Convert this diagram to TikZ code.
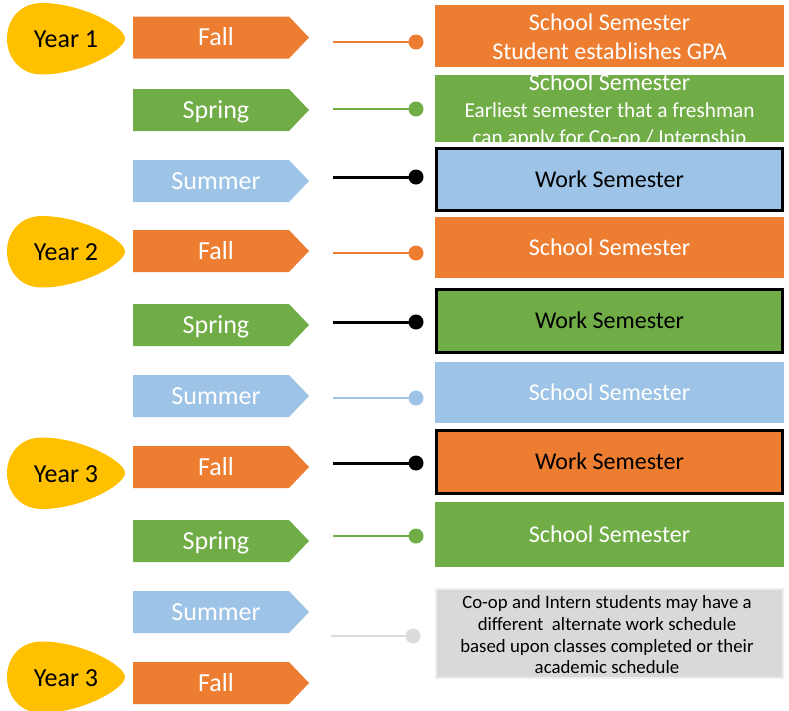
\documentclass[tikz,border=0pt]{standalone}
\usepackage{fontspec}
\setmainfont{Carlito}
\definecolor{orng}{HTML}{ED7D31}
\definecolor{grn}{HTML}{70AD47}
\definecolor{lblu}{HTML}{9DC3E6}
\definecolor{yel}{HTML}{FFC000}
\definecolor{gbox}{HTML}{D9D9D9}
\definecolor{gline}{HTML}{DCDCDC}
\definecolor{gedge}{HTML}{EEEEEE}
\tikzset{
  semlabel/.style={anchor=base, inner sep=0pt, text=white, font=\fontsize{26}{30}\selectfont},
  yearlabel/.style={anchor=base, inner sep=0pt, text=black, font=\fontsize{26}{30}\selectfont},
  boxtext/.style={anchor=base, inner sep=0pt, font=\fontsize{24}{29}\selectfont},
  smalltext/.style={anchor=base, inner sep=0pt, font=\fontsize{21.3}{26}\selectfont},
  notetext/.style={anchor=base, inner sep=0pt, font=\fontsize{18.8}{21.7}\selectfont},
  dotnode/.style={circle, minimum size=15pt, inner sep=0pt, draw=none},
  semrect/.style={rectangle, minimum width=349pt, inner sep=0pt, draw=none},
  workrect/.style={rectangle, minimum width=346pt, inner sep=0pt, draw=black, line width=3pt},
  egg/.pic={\fill[yel] (59,0) .. controls (59,-12) and (15,-35.5) .. (-24,-35.5)
      .. controls (-47,-35.5) and (-59,-18) .. (-59,0)
      .. controls (-59,18) and (-47,36) .. (-24,36)
      .. controls (15,36) and (59,12) .. (59,0) -- cycle;}
}
\newcommand\semarrow[4]{%
  \fill[#2] (133,#1-21) -- (289,#1-21) -- (309,#1) -- (289,#1+21) -- (133,#1+21) -- cycle;
  \node[semlabel] (#4) at (216,#1+8.3) {#3};}
\newcommand\semlink[5]{%
  \coordinate (#4) at (333,#1);
  \node[dotnode, fill=#2] (#5) at (416,#1) {};
  \draw[#2, line width=#3] (#4) -- (#5.center);}
\newcommand\yearshape[3]{%
  \pic at (66,#1) {egg};
  \node[yearlabel] (#3) at (66,#1+9) {#2};}
\begin{document}
\begin{tikzpicture}[x=1pt,y=-1pt]
\useasboundingbox (0,0) rectangle (789,710);
\clip (0,0) rectangle (789,710);
% year shapes
\yearshape{38.5}{Year 1}{y1}
\yearshape{251.5}{Year 2}{y2}
\yearshape{473}{Year 3}{y3}
\yearshape{677}{Year 3}{y4}
% semester arrows
\semarrow{37.5}{orng}{Fall}{f1}
\semarrow{110}{grn}{Spring}{s1}
\semarrow{181}{lblu}{Summer}{u1}
\semarrow{251}{orng}{Fall}{f2}
\semarrow{325}{grn}{Spring}{s2}
\semarrow{396}{lblu}{Summer}{u2}
\semarrow{467}{orng}{Fall}{f3}
\semarrow{541}{grn}{Spring}{s3}
\semarrow{612}{lblu}{Summer}{u3}
\semarrow{683}{orng}{Fall}{f4}
% connectors
\semlink{42}{orng}{2pt}{a1}{d1}
\semlink{109}{grn}{2pt}{a2}{d2}
\semlink{177}{black}{3pt}{a3}{d3}
\semlink{253}{orng}{2pt}{a4}{d4}
\semlink{322}{black}{3pt}{a5}{d5}
\semlink{398}{lblu}{2pt}{a6}{d6}
\semlink{463}{black}{3pt}{a7}{d7}
\semlink{536}{grn}{2pt}{a8}{d8}
\coordinate (a9) at (331,636);
\node[dotnode, fill=gline] (d9) at (413,636) {};
\draw[gline, line width=2pt] (a9) -- (d9.center);
% boxes
\node[semrect, fill=orng, minimum height=62pt] (r1) at (609.5,36) {};
\node[boxtext, text=white] (r1a) at (609.5,30) {School Semester};
\node[boxtext, text=white] (r1b) at (609.5,59.3) {Student establishes GPA};
\node[semrect, fill=grn, minimum height=67pt] (r2) at (609.5,108.5) {};
\begin{scope}
  \clip (435,75) rectangle (784,142);
  \node[boxtext, text=white] (r2a) at (609.5,90.7) {School Semester};
  \node[smalltext, text=white] (r2b) at (609.5,117.3) {Earliest semester that a freshman};
  \node[smalltext, text=white] (r2c) at (609.5,144) {can apply for Co-op / Internship};
\end{scope}
\node[workrect, fill=lblu, minimum height=62pt] (r3) at (609.5,179.5) {};
\node[boxtext, text=black] (r3a) at (609.5,187) {Work Semester};
\node[semrect, fill=orng, minimum height=61pt] (r4) at (609.5,247.5) {};
\node[boxtext, text=white] (r4a) at (609.5,255) {School Semester};
\node[workrect, fill=grn, minimum height=63pt] (r5) at (609.5,321) {};
\node[boxtext, text=black] (r5a) at (609.5,328.5) {Work Semester};
\node[semrect, fill=lblu, minimum height=61pt] (r6) at (609.5,392.5) {};
\node[boxtext, text=white] (r6a) at (609.5,400) {School Semester};
\node[workrect, fill=orng, minimum height=63pt] (r7) at (609.5,462) {};
\node[boxtext, text=black] (r7a) at (609.5,469.5) {Work Semester};
\node[semrect, fill=grn, minimum height=65pt] (r8) at (609.5,534.5) {};
\node[boxtext, text=white] (r8a) at (609.5,542) {School Semester};
\node[rectangle, minimum width=347pt, minimum height=89pt, inner sep=0pt, fill=gbox, draw=gedge, line width=2pt] (r9) at (609.5,633.5) {};
\node[notetext] (n1) at (607,608.3) {Co-op and Intern students may have a};
\node[notetext] (n2) at (607,630) {different\ \ alternate work schedule};
\node[notetext] (n3) at (607,652) {based upon classes completed or their};
\node[notetext] (n4) at (607,673.5) {academic schedule};
\end{tikzpicture}
\end{document}
